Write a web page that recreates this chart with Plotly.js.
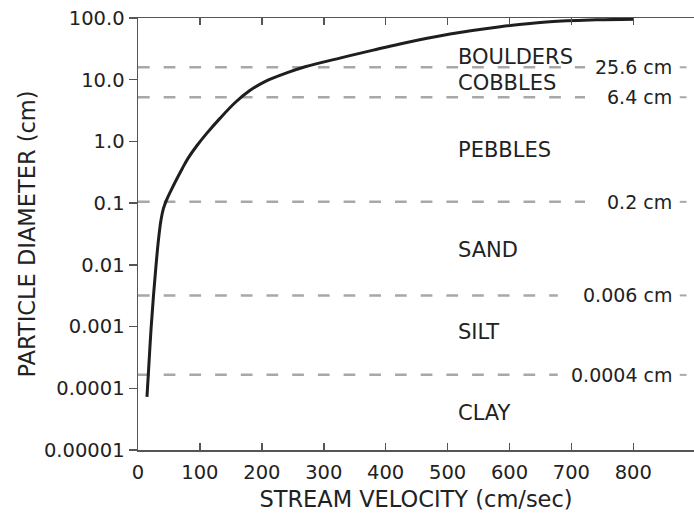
<!DOCTYPE html>
<html>
<head>
<meta charset="utf-8">
<script src="https://cdn.plot.ly/plotly-3.0.1.min.js"></script>
<style>
  html, body { margin: 0; padding: 0; background: #ffffff; }
  #chart { width: 694px; height: 516px; }
</style>
</head>
<body>
<div id="chart"></div>
<script>
// Curve: stream velocity (cm/sec) vs particle diameter (cm)
var velocity = [14.5, 17, 21, 25, 29, 33, 37, 41, 46, 54, 63, 72, 81, 95, 111, 132, 157, 180, 205, 240, 270, 326, 380, 423, 504, 585, 665, 740, 800];
var diameter = [7.24e-5, 1.91e-4, 8.91e-4, 3.16e-3, 9.55e-3, 0.0251, 0.0525, 0.0813, 0.112, 0.166, 0.251, 0.372, 0.537, 0.851, 1.35, 2.34, 4.27, 6.61, 9.33, 12.9, 16.2, 22.4, 30.2, 38.0, 55.0, 72.4, 87.1, 93.3, 95.5];

// Grain-size boundaries (dashed lines, as drawn in the figure)
var boundaryLabels = ["25.6 cm", "6.4 cm", "0.2 cm", "0.006 cm", "0.0004 cm"];
var boundaryLevel = [15.9, 5.2, 0.105, 0.0032, 0.000165];
var boundaryLineEnd = [722, 722, 722, 678, 678];
var boundaryLabelX = 865;
var boundaryMarkX = [875, 886];

// Grain-size classes
var zoneNames = ["BOULDERS", "COBBLES", "PEBBLES", "SAND", "SILT", "CLAY"];
var zoneLevel = [23.3, 8.85, 0.726, 0.0174, 0.00081, 0.0000398];
var zoneLabelX = 513;

// Axis ticks
var xTickVals = [0, 100, 200, 300, 400, 500, 600, 700, 800];
var yTickVals = [0.00001, 0.0001, 0.001, 0.01, 0.1, 1, 10, 100];
var yTickText = ["0.00001", "0.0001", "0.001", "0.01", "0.1", "1.0", "10.0", "100.0"];

var FONT = "DejaVu Sans, Liberation Sans, Arial, sans-serif";
var TXT = "#222222";

var traces = [];
boundaryLevel.forEach(function (v, i) {
  traces.push({
    x: [0, boundaryLineEnd[i]], y: [v, v], mode: "lines", type: "scatter",
    line: { color: "#a8a8a8", width: 2.5, dash: "11.7px,14px" },
    hoverinfo: "skip", showlegend: false
  });
  traces.push({
    x: boundaryMarkX, y: [v, v], mode: "lines", type: "scatter",
    line: { color: "#a8a8a8", width: 2 },
    hoverinfo: "skip", showlegend: false
  });
});
traces.push({
  x: velocity, y: diameter, mode: "lines", type: "scatter",
  line: { color: "#1e1e1e", width: 3, shape: "spline", smoothing: 1 },
  showlegend: false
});

var annotations = [];
zoneNames.forEach(function (n, i) {
  annotations.push({
    x: zoneLabelX, y: Math.log10(zoneLevel[i]), xref: "x", yref: "y",
    text: n, showarrow: false, xanchor: "left", yanchor: "middle",
    font: { family: FONT, size: 21, color: TXT }
  });
});
boundaryLabels.forEach(function (t, i) {
  annotations.push({
    x: boundaryLabelX, y: Math.log10(boundaryLevel[i]), xref: "x", yref: "y",
    text: t, showarrow: false, xanchor: "right", yanchor: "middle",
    font: { family: FONT, size: 19, color: TXT }
  });
});

var layout = {
  width: 694, height: 516,
  margin: { l: 138, r: 0, t: 18, b: 66, pad: 0 },
  paper_bgcolor: "#ffffff", plot_bgcolor: "#ffffff",
  showlegend: false,
  font: { family: FONT, size: 19, color: TXT },
  xaxis: {
    range: [0, 898],
    tickvals: xTickVals,
    ticks: "inside", ticklen: 7, tickwidth: 1.5, tickcolor: "#555555",
    showline: true, linecolor: "#555555", linewidth: 1.5,
    mirror: "ticks",
    showgrid: false, zeroline: false,
    ticklabelstandoff: 4,
    tickfont: { family: FONT, size: 19.5, color: TXT },
    title: { text: "STREAM VELOCITY (cm/sec)", standoff: 8, font: { family: FONT, size: 22.5, color: TXT } }
  },
  yaxis: {
    type: "log",
    range: [-5, 2],
    tickvals: yTickVals, ticktext: yTickText,
    ticks: "outside", ticklen: 8, tickwidth: 1.5, tickcolor: "#555555",
    showline: true, linecolor: "#555555", linewidth: 1.5,
    showgrid: false, zeroline: false,
    tickfont: { family: FONT, size: 19.5, color: TXT },
    title: { text: "PARTICLE DIAMETER (cm)", standoff: 2, font: { family: FONT, size: 22.5, color: TXT } }
  },
  annotations: annotations
};

Plotly.newPlot("chart", traces, layout, { displayModeBar: false, staticPlot: true });
</script>
</body>
</html>
